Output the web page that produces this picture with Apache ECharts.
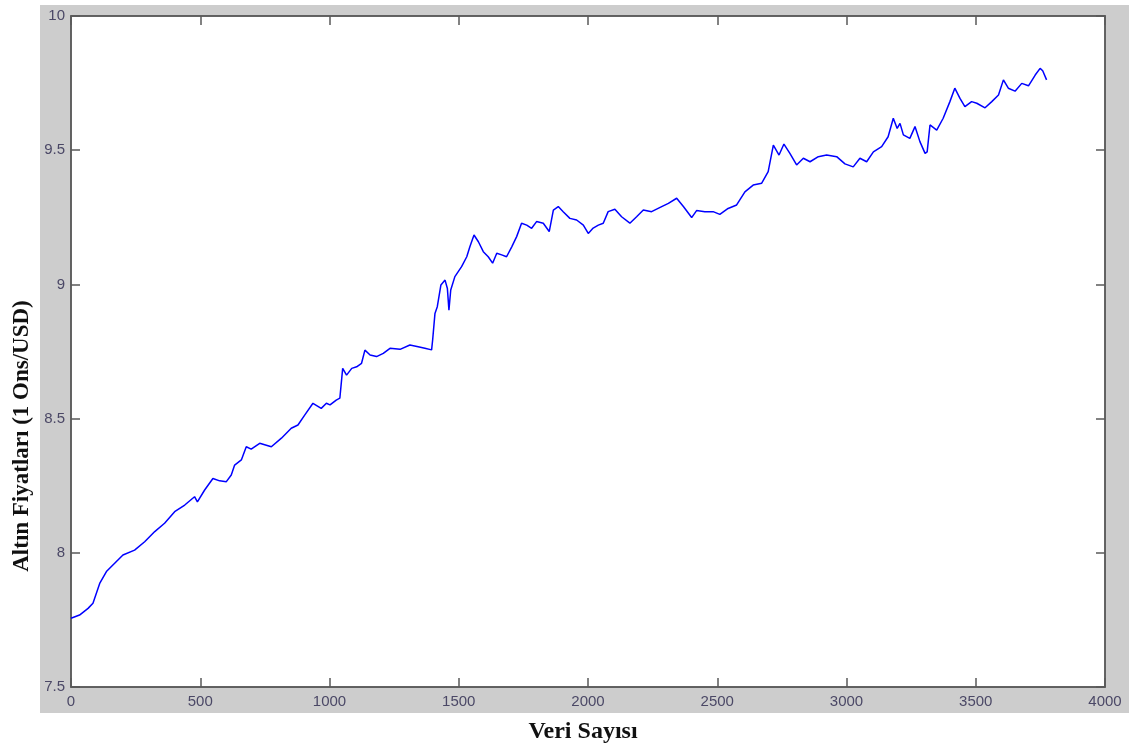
<!DOCTYPE html>
<html>
<head>
<meta charset="utf-8">
<script src="https://cdn.jsdelivr.net/npm/echarts@6/dist/echarts.min.js"></script>
<style>
  html, body { margin: 0; padding: 0; background: #ffffff; }
  #bg { position: absolute; left: 40px; top: 5px; width: 1089px; height: 708px; background: #cdcdcd; }
  #chart { position: absolute; left: 0; top: 0; width: 1129px; height: 749px; }
</style>
</head>
<body>
<div id="bg"></div>
<div id="chart"></div>
<script>
// Data
const xTitle = 'Veri Sayısı';
const yTitle = 'Altın Fiyatları (1 Ons/USD)';
const xTicks = [0, 500, 1000, 1500, 2000, 2500, 3000, 3500, 4000];
const yTicks = [7.5, 8, 8.5, 9, 9.5, 10];
const xVals = [0,33,66,85,111,137,169,201,246,285,324,362,401,440,478,489,517,549,575,601,620,633,659,678,697,730,775,814,852,878,904,936,968,988,1002,1026,1040,1051,1066,1086,1105,1124,1137,1157,1182,1208,1234,1273,1311,1343,1369,1395,1399,1408,1417,1431,1447,1456,1462,1469,1485,1511,1531,1543,1559,1576,1595,1614,1631,1647,1666,1685,1705,1724,1743,1763,1782,1801,1827,1850,1866,1885,1904,1930,1956,1982,2001,2020,2040,2059,2078,2104,2130,2162,2188,2214,2246,2285,2311,2343,2369,2401,2420,2452,2484,2510,2542,2575,2607,2639,2672,2697,2717,2739,2758,2781,2807,2833,2859,2891,2923,2962,2994,3026,3052,3078,3104,3136,3161,3181,3196,3207,3220,3245,3265,3284,3304,3312,3323,3349,3374,3400,3419,3439,3458,3484,3504,3536,3562,3588,3607,3626,3652,3678,3704,3730,3749,3759,3774];
const yVals = [7.756,7.768,7.793,7.812,7.886,7.930,7.961,7.992,8.010,8.041,8.079,8.110,8.153,8.178,8.209,8.190,8.234,8.277,8.268,8.265,8.290,8.327,8.346,8.395,8.386,8.408,8.395,8.427,8.464,8.476,8.513,8.557,8.538,8.557,8.551,8.569,8.576,8.687,8.662,8.687,8.693,8.706,8.755,8.737,8.731,8.743,8.762,8.758,8.774,8.768,8.762,8.756,8.793,8.892,8.917,8.998,9.016,8.985,8.904,8.979,9.029,9.066,9.103,9.140,9.184,9.159,9.122,9.103,9.079,9.116,9.110,9.103,9.140,9.178,9.228,9.221,9.209,9.234,9.228,9.197,9.277,9.290,9.271,9.246,9.240,9.221,9.190,9.210,9.221,9.228,9.271,9.280,9.252,9.228,9.252,9.277,9.271,9.290,9.302,9.321,9.290,9.249,9.275,9.271,9.271,9.261,9.283,9.296,9.345,9.370,9.377,9.420,9.519,9.482,9.523,9.488,9.445,9.470,9.457,9.476,9.482,9.476,9.449,9.438,9.470,9.457,9.494,9.513,9.550,9.619,9.581,9.600,9.557,9.544,9.588,9.532,9.488,9.494,9.594,9.575,9.619,9.681,9.731,9.693,9.662,9.681,9.675,9.658,9.681,9.706,9.762,9.731,9.720,9.749,9.740,9.780,9.805,9.796,9.762];

const pairs = xVals.map((x, i) => [x, yVals[i]]);
const xMin = xTicks[0], xMax = xTicks[xTicks.length - 1], xStep = xTicks[1] - xTicks[0];
const yMin = yTicks[0], yMax = yTicks[yTicks.length - 1], yStep = yTicks[1] - yTicks[0];

const labelColor = '#4b4866';
const axisColor = '#5a5a5a';
const tickStyle = { show: true, inside: true, length: 9, lineStyle: { color: axisColor, width: 1.5 } };
const lineStyle = { show: true, onZero: false, lineStyle: { color: axisColor, width: 1.5 } };
const plainNum = v => String(v);

const chart = echarts.init(document.getElementById('chart'), null, { renderer: 'canvas' });
chart.setOption({
  animation: false,
  backgroundColor: 'transparent',
  grid: { left: 71, top: 16, right: 24, bottom: 62, show: true, backgroundColor: '#ffffff', borderColor: axisColor, borderWidth: 1.5 },
  xAxis: [
    { type: 'value', position: 'bottom', min: xMin, max: xMax, interval: xStep,
      axisLine: lineStyle, axisTick: tickStyle, splitLine: { show: false },
      axisLabel: { color: labelColor, fontFamily: 'Liberation Sans, Arial, sans-serif', fontSize: 15, margin: 7, formatter: plainNum } },
    { type: 'value', position: 'top', min: xMin, max: xMax, interval: xStep,
      axisLine: lineStyle, axisTick: tickStyle, splitLine: { show: false }, axisLabel: { show: false } }
  ],
  yAxis: [
    { type: 'value', position: 'left', min: yMin, max: yMax, interval: yStep,
      axisLine: lineStyle, axisTick: tickStyle, splitLine: { show: false },
      axisLabel: { color: labelColor, fontFamily: 'Liberation Sans, Arial, sans-serif', fontSize: 15, margin: 6, formatter: plainNum } },
    { type: 'value', position: 'right', min: yMin, max: yMax, interval: yStep,
      axisLine: lineStyle, axisTick: tickStyle, splitLine: { show: false }, axisLabel: { show: false } }
  ],
  series: [{
    type: 'line', data: pairs, xAxisIndex: 0, yAxisIndex: 0,
    showSymbol: false, symbol: 'none',
    lineStyle: { color: '#0000ff', width: 1.5 }
  }],
  graphic: [
    { type: 'text', x: 583, y: 732,
      style: { text: xTitle, font: 'bold 24px "Liberation Serif", "Times New Roman", serif', fill: '#111111', align: 'center', verticalAlign: 'middle' } },
    { type: 'text', x: 22, y: 436, rotation: Math.PI / 2,
      style: { text: yTitle, font: 'bold 23px "Liberation Serif", "Times New Roman", serif', fill: '#111111', align: 'center', verticalAlign: 'middle' } }
  ]
});
</script>
</body>
</html>
